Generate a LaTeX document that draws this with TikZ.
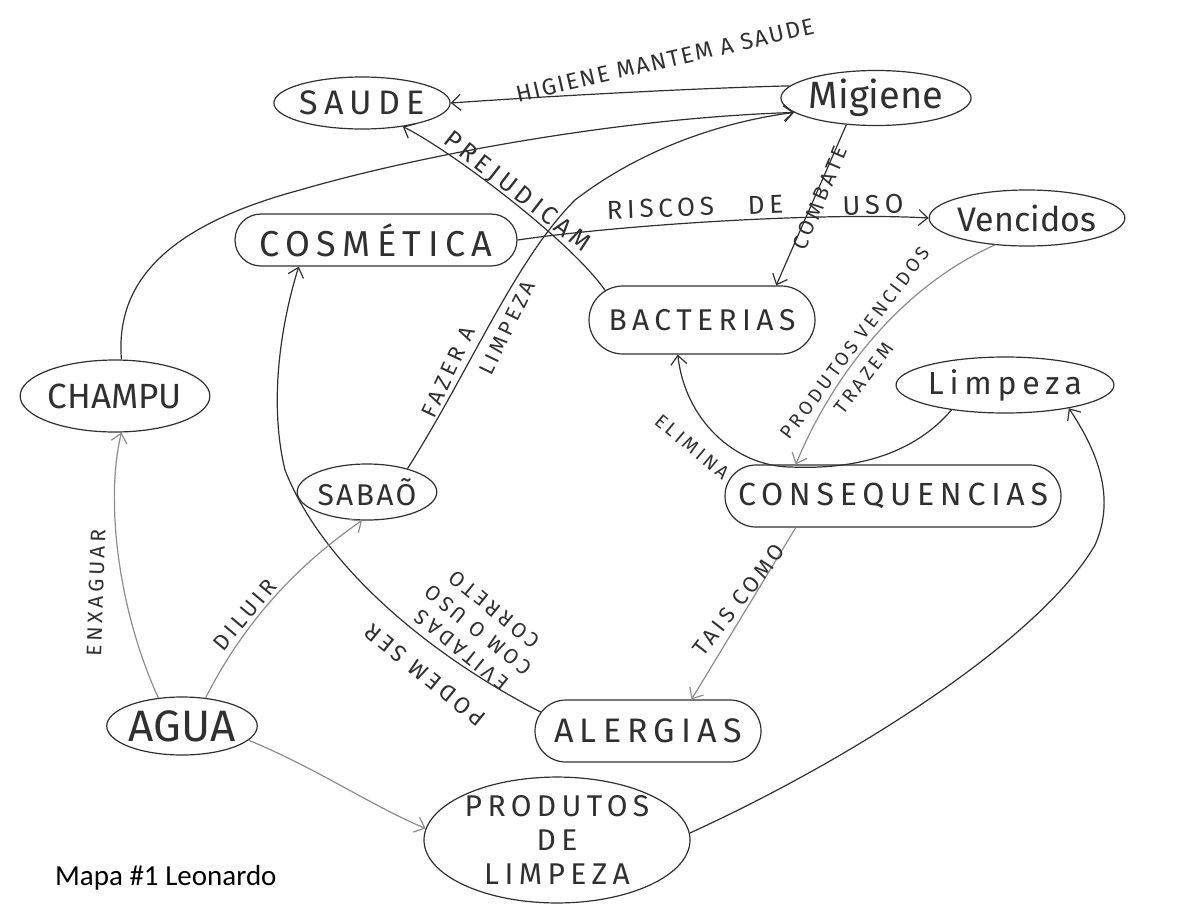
\documentclass[tikz,border=0pt]{standalone}
\usepackage{fontspec}
\usetikzlibrary{shapes.geometric,shapes.misc,arrows.meta,calc}
\newfontfamily\hand{Fira Sans}
\newfontfamily\handsp[LetterSpace=18]{Fira Sans}
\newfontfamily\handmid[LetterSpace=8]{Fira Sans}
\newfontfamily\capfont{Carlito}
\newcommand\fs[1]{\fontsize{#1}{#1}\selectfont}
\definecolor{ink}{HTML}{303030}
\begin{document}
\begin{tikzpicture}[x=1pt,y=-1pt,
  box/.style={draw=ink,line width=1.2pt,inner sep=0pt,text=ink},
  ell/.style={box,ellipse},
  pill/.style={box,rounded rectangle},
  arr/.style={draw=ink,line width=1.2pt,-{Straight Barb[length=9pt,width=16pt]}},
  arrl/.style={arr,draw=ink!55},
  lab/.style={text=ink,inner sep=0pt},
]
\useasboundingbox[fill=white] (0,0) rectangle (1198,913);

% nodes
\node[ell,minimum width=168,minimum height=52,font=\handsp\fs{34}] (saude) at (362,103) {SAUDE};
\node[ell,minimum width=182,minimum height=55,font=\hand\fs{38}] (hig) at (876,98) {Migiene};
\node[pill,minimum width=282,minimum height=52,font=\handsp\fs{36}] (cosm) at (376,240) {COSMÉTICA};
\node[ell,minimum width=168,minimum height=56,font=\hand\fs{34}] (venc) at (1027,218) {Vencidos};
\node[pill,minimum width=226,minimum height=68,font=\handsp\fs{30}] (bact) at (702,320) {BACTERIAS};
\node[ell,minimum width=162,minimum height=72,font=\hand\fs{35}] (champu) at (115,396) {CHAMPU};
\node[ell,minimum width=200,minimum height=56,font=\handsp\fs{32}] (limp) at (1005,385) {Limpeza};
\node[ell,minimum width=126,minimum height=56,font=\handmid\fs{30}] (sabao) at (367,492) {SABAÕ};
\node[pill,minimum width=336,minimum height=62,font=\handsp\fs{32}] (cons) at (893,496) {CONSEQUENCIAS};
\node[pill,minimum width=226,minimum height=62,font=\handsp\fs{34}] (alerg) at (648,731) {ALERGIAS};
\node[ell,minimum width=142,minimum height=58,font=\hand\fs{44}] (agua) at (182,726) {AGUA};
\node[ell,minimum width=266,minimum height=112,align=center,font=\handsp\fontsize{30}{34}\selectfont] (prod) at (557,840) {PRODUTOS\\DE\\LIMPEZA};
\node[anchor=west,inner sep=0pt,text=black,font=\capfont\fs{29}] (cap) at (55,878) {Mapa \#1 Leonardo};

% connectors
\draw[arr] (hig.172) .. controls (700,88) and (550,96) .. (saude.east);
\draw[arr] (champu.80) .. controls (115,280) and (170,225) .. (300,190) .. controls (420,155) and (620,118) .. (hig.190);
\draw[arr] (sabao.30) .. controls (470,370) and (515,260) .. (575,200) .. controls (640,150) and (720,122) .. (hig.190);
\draw[arr] (bact.163) .. controls (570,240) and (450,150) .. (saude.-30);
\draw[arr] (cosm.east) .. controls (620,225) and (820,212) .. (venc.west);
\draw[arr] (hig.222) -- (bact.25);
\draw[arrl] (venc.220) .. controls (905,285) and (835,370) .. (cons.162);
\draw[arr] (limp.205) .. controls (900,470) and (820,468) .. (790,467) .. controls (735,466) and (685,420) .. (bact.-125);
\draw[arrl] (cons.-162) -- (alerg.36);
\draw[arr] (alerg.170) .. controls (420,650) and (320,560) .. (285,470) .. controls (268,400) and (282,320) .. (cosm.-161);
\draw[arrl] (agua.130) .. controls (118,610) and (105,500) .. (champu.-80);
\draw[arrl] (agua.50) .. controls (240,630) and (290,570) .. (sabao.-100);
\draw[arrl] (agua.-12) .. controls (320,770) and (370,805) .. (prod.175);
\draw[arr] (prod.3) .. controls (850,760) and (1040,640) .. (1095,545) .. controls (1115,500) and (1100,455) .. (limp.-20);

% labels
\node[lab,rotate=13,font=\handmid\fs{23}] (l1) at (665,60) {HIGIENE MANTEM A SAUDE};
\node[lab,rotate=-38,font=\handsp\fs{25}] (l2) at (517,192) {PREJUDICAM};
\node[lab,rotate=2,font=\handsp\fs{26}] (l3) at (695,207) {RISCOS\hspace{34pt}DE};
\node[lab,rotate=2,font=\handsp\fs{27}] (l3b) at (873,205) {USO};
\node[lab,rotate=67,font=\handsp\fs{21}] (l4) at (820,198) {COMBATE};
\node[lab,rotate=53,font=\handsp\fs{19}] (l5) at (855,343) {PRODUTOS VENCIDOS};
\node[lab,rotate=52,font=\handsp\fs{19}] (l6) at (864,378) {TRAZEM};
\node[lab,rotate=-40,font=\handsp\fs{19}] (l7) at (692,447) {ELIMINA};
\node[lab,rotate=65,font=\handsp\fs{22}] (l8) at (448,372) {FAZER A};
\node[lab,rotate=64,font=\handsp\fs{21}] (l9) at (507,328) {LIMPEZA};
\node[lab,rotate=52,font=\handsp\fs{22}] (l10) at (739,600) {TAIS COMO};
\node[lab,rotate=88,font=\handsp\fs{21}] (l11) at (96,593) {ENXAGUAR};
\node[lab,rotate=50,font=\handsp\fs{22}] (l12) at (245,615) {DILUIR};
\node[lab,rotate=141,font=\handsp\fs{23}] (l13) at (425,675) {PODEM SER};
\node[lab,rotate=141,align=center,font=\handsp\fontsize{21}{26}\selectfont] (l14) at (478,630) {EVITADAS\\COM O USO\\CORRETO};
\end{tikzpicture}
\end{document}
